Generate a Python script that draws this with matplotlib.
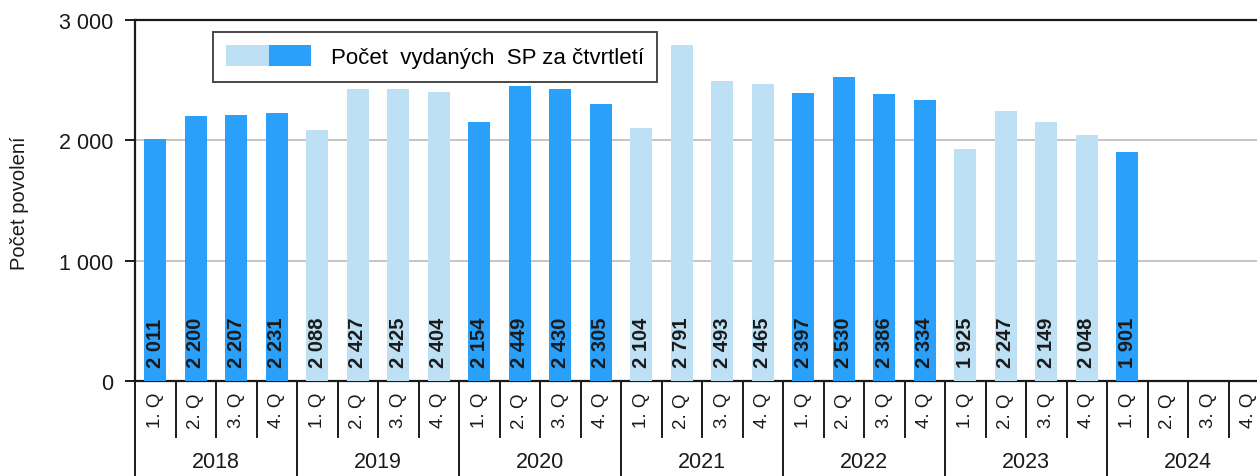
import matplotlib
matplotlib.use("Agg")
import matplotlib.pyplot as plt
from matplotlib.patches import Patch
from matplotlib.legend_handler import HandlerTuple
import matplotlib.transforms as mtransforms

plt.rcParams['font.family'] = ['Liberation Sans', 'DejaVu Sans']

years = ["2018", "2019", "2020", "2021", "2022", "2023", "2024"]
quarters = ["1. Q", "2. Q", "3. Q", "4. Q"]
values = [2011, 2200, 2207, 2231,
          2088, 2427, 2425, 2404,
          2154, 2449, 2430, 2305,
          2104, 2791, 2493, 2465,
          2397, 2530, 2386, 2334,
          1925, 2247, 2149, 2048,
          1901]
dark = "#2AA0FA"
light = "#BEE0F5"
txt = "#1a1a1a"

n_slots = len(years) * 4
fig = plt.figure(figsize=(12.57, 4.77), dpi=100)
ax = fig.add_axes([135/1257, 1-382/477, 1134/1257, (382-21)/477])

colors = [dark if (i // 4) % 2 == 0 else light for i in range(len(values))]
x = list(range(len(values)))
bars = ax.bar(x, values, width=0.54, color=colors, zorder=3)

for xi, v in zip(x, values):
    s = f"{v:,}".replace(",", " ")
    ax.text(xi, 120, s, rotation=90, ha="center", va="bottom", fontsize=14.5,
            fontweight="bold", color=txt, zorder=4)

ax.set_xlim(-0.5, n_slots - 0.5)
ax.set_ylim(0, 3000)
ax.set_yticks([0, 1000, 2000, 3000])
ax.set_yticklabels(["0", "1 000", "2 000", "3 000"], fontsize=15.5, color=txt)
ax.tick_params(axis="y", length=7, width=1.4, pad=8.5, color=txt)
ax.yaxis.grid(True, color="#c0c0c0", linewidth=1.3, zorder=0)
ax.set_axisbelow(True)

ax.set_xticks(range(n_slots))
ax.set_xticklabels(quarters * len(years), rotation=90, fontsize=13.5, color=txt)
ax.tick_params(axis="x", length=0, pad=8)

ax.spines["right"].set_visible(False)
for side in ["left", "bottom", "top"]:
    ax.spines[side].set_linewidth(1.6)
    ax.spines[side].set_color(txt)

trans = mtransforms.blended_transform_factory(ax.transData, ax.transAxes)
for k in range(n_slots + 1):
    xb = k - 0.5
    y0 = -0.27 if k % 4 == 0 else -0.155
    ax.plot([xb, xb], [0, y0], transform=trans, color=txt, linewidth=1.4,
            clip_on=False)
for j, yr in enumerate(years):
    ax.text(j * 4 + 1.5, -(463-382)/361, yr, transform=trans, ha="center", va="center",
            fontsize=15.5, color=txt)

fig.text(20/1257, 1-203/477, "Počet povolení", rotation=90, ha="center", va="center",
         fontsize=14.5, color=txt)

handle = (Patch(facecolor=light, edgecolor="none"), Patch(facecolor=dark, edgecolor="none"))
leg = ax.legend([handle], ["Počet  vydaných  SP za čtvrtletí"],
                handler_map={tuple: HandlerTuple(ndivide=None, pad=0)},
                loc="upper left", bbox_to_anchor=((213-135)/1134, 1-(33-21)/361),
                fontsize=16, frameon=True, fancybox=False, handlelength=3.8,
                handleheight=1.05, borderpad=0.6, handletextpad=0.9, borderaxespad=0)
leg.get_frame().set_edgecolor(txt)
leg.get_frame().set_linewidth(1.4)

fig.savefig("out.png", dpi=100)
